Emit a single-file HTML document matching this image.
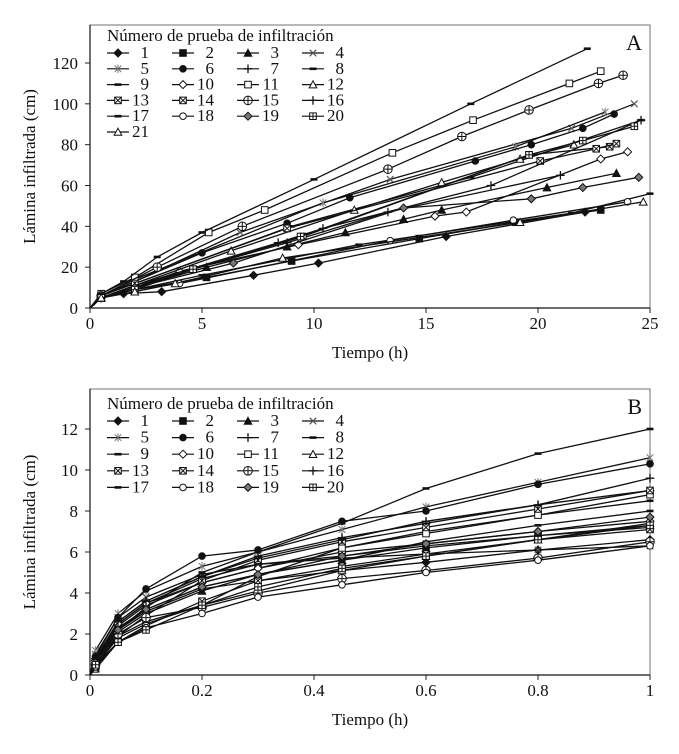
<!DOCTYPE html>
<html><head><meta charset="utf-8"><style>
body{margin:0;background:#fff}
svg text{font-family:"Liberation Serif",serif;fill:#111}
</style></head><body>
<svg id="c" width="679" height="749" viewBox="0 0 679 749" xmlns="http://www.w3.org/2000/svg"></svg>
<script>
// Series ids and marker types
const seriesIds = [1,2,3,4,5,6,7,8,9,10,11,12,13,14,15,16,17,18,19,20,21];
const markerTypes = ['diamond','square','triangle','x','star','circle','plus','dash','dash','odiamond','osquare','otriangle','sqx','sqx','ocirclePlus','plus','dash','ocircle','gdiamond','sqplus','otriangle'];
// Panel A: time (h) and lamina (cm), pairs per series
const aT = {
1:[0,0.5,1.5,3.2,7.3,10.2,15.9,22.1], 2:[0,0.5,2,5.2,9,14.7,19,22.8], 3:[0,0.5,2,5.2,8.8,11.4,14,15.7,20.4,23.5],
4:[0,0.5,2,6.7,13.4,21.5,24.3], 5:[0,0.5,2,10.4,19,23], 6:[0,0.5,2,5,8.8,11.6,17.2,19.7,22,23.4],
7:[0,0.5,2,8.8,13.3,21], 8:[0,0.5,2,9,17,24.6], 9:[0,0.5,2,5,12,18.7,21.5,25], 10:[0,0.5,2,4,9.3,15.4,16.8,22.8,24],
11:[0,0.5,2,5.3,7.8,13.5,17.1,21.4,22.8], 12:[0,0.5,2,6.3,11.8,15.7,19.2,21.6], 13:[0,0.5,2,4.6,9.5,19.6,23.2],
14:[0,0.5,2,8.8,20.1,22.6,23.5], 15:[0,0.5,3,6.8,13.3,16.6,19.6,22.7,23.8], 16:[0,0.5,2,8.4,10.4,17.9,24.6],
17:[0,0.5,1.5,3,5,10,17,22.2], 18:[0,0.5,2,4,13.4,18.9,24], 19:[0,0.5,2,6.4,14,19.7,22,24.5],
20:[0,0.5,2,4.6,9.4,19.6,22,24.3], 21:[0,0.5,2,3.8,8.6,19.2,24.7]};
const aY = {
1:[0,5,7,8,16,22,35,47], 2:[0,5,9,15,23,34,42,48], 3:[0,5,10,20,30,37,43.5,48,59,66],
4:[0,6,13,37,63,88,100], 5:[0,6,14,51.5,79,96], 6:[0,6,13,27,41.5,54,72,80,88,95],
7:[0,5,11,32,47,65], 8:[0,6,12,40,64,92], 9:[0,5,9,16,31,42,46.5,56], 10:[0,5,10,18,31,45,47,73,76.5],
11:[0,7,15,37,48,76,92,110,116], 12:[0,5,11,28,48,61.5,73,80], 13:[0,5,10,19,35,75,79],
14:[0,6,12,39,72,78,80.5], 15:[0,6,20,40,68,84,97,110,114], 16:[0,5,11,32,39,60,92],
17:[0,7,13,25,37,63,100,127], 18:[0,5,9,12,33,43,52], 19:[0,5,10,22,49,53.5,59,64],
20:[0,5,9,19,35,75,82,89], 21:[0,5,8,12,24.5,42,52]};
// Panel B
const bT = [0.01,0.05,0.1,0.2,0.3,0.45,0.6,0.8,1];
const bY = {
1:[0.7,2.2,3.1,4.2,4.6,5.1,5.5,6.1,6.6], 2:[0.8,2.5,3.5,4.7,5.4,5.8,6.3,6.8,7.2], 3:[0.6,2.1,3.0,4.1,4.9,5.6,6.2,6.8,7.3],
4:[1.0,2.8,3.8,4.9,5.4,5.7,5.9,6.1,6.3], 5:[1.2,3.0,4.1,5.3,6.0,7.1,8.2,9.4,10.6], 6:[0.9,2.8,4.2,5.8,6.1,7.5,8.0,9.3,10.3],
7:[0.8,2.6,3.6,4.8,5.8,6.7,7.4,8.3,9.0], 8:[0.7,2.4,3.4,4.5,5.2,6.2,7.0,7.8,8.5], 9:[0.6,2.3,3.2,4.3,4.9,5.6,6.5,7.3,8.0],
10:[0.7,2.5,3.5,4.5,5.2,6.0,6.4,7.0,7.5], 11:[0.5,1.9,2.6,3.4,4.8,6.2,6.9,7.8,8.8], 12:[0.5,1.8,2.5,3.4,4.1,5.1,5.8,6.6,7.4],
13:[0.3,1.6,2.4,3.6,4.6,5.3,5.9,6.6,7.1], 14:[0.4,1.9,2.9,4.6,5.6,6.5,7.2,8.1,9.0], 15:[0.5,2.0,2.8,3.3,4.0,4.7,5.1,5.7,6.5],
16:[0.8,2.6,3.6,4.8,5.7,6.6,7.5,8.3,9.6], 17:[0.8,2.2,3.3,5.0,6.0,7.4,9.1,10.8,12.0], 18:[0.4,1.6,2.3,3.0,3.8,4.4,5.0,5.6,6.3],
19:[0.6,2.2,3.2,4.3,4.9,5.8,6.4,7.0,7.7], 20:[0.5,1.6,2.2,3.4,4.3,5.2,5.8,6.6,7.3]};
const aXTicks=[0,5,10,15,20,25], aYTicks=[0,20,40,60,80,100,120];
const bXTicks=[0,0.2,0.4,0.6,0.8,1], bYTicks=[0,2,4,6,8,10,12];

const NS='http://www.w3.org/2000/svg', svg=document.getElementById('c');
function mk(tag,attrs,parent){const e=document.createElementNS(NS,tag);for(const k in attrs)e.setAttribute(k,attrs[k]);(parent||svg).appendChild(e);return e;}
function marker(g,type,x,y){
  const s=3.3;let e;
  if(type==='diamond'||type==='odiamond'||type==='gdiamond'){e=mk('polygon',{points:`${x},${y-s-0.7} ${x+s+0.7},${y} ${x},${y+s+0.7} ${x-s-0.7},${y}`,fill:type==='diamond'?'#111':type==='gdiamond'?'#777':'#fff',stroke:'#111','stroke-width':1},g);}
  else if(type==='square'||type==='osquare'||type==='sqx'||type==='sqplus'){e=mk('rect',{x:x-s,y:y-s,width:2*s,height:2*s,fill:type==='square'?'#111':'#fff',stroke:'#111','stroke-width':1},g);
    if(type==='sqx'){mk('path',{d:`M${x-s} ${y-s}L${x+s} ${y+s}M${x+s} ${y-s}L${x-s} ${y+s}`,stroke:'#111','stroke-width':1},g);}
    if(type==='sqplus'){mk('path',{d:`M${x-s} ${y}H${x+s}M${x} ${y-s}V${y+s}`,stroke:'#111','stroke-width':1},g);}}
  else if(type==='triangle'||type==='otriangle'){e=mk('polygon',{points:`${x},${y-s-0.5} ${x+s+0.5},${y+s} ${x-s-0.5},${y+s}`,fill:type==='triangle'?'#111':'#fff',stroke:'#111','stroke-width':1},g);}
  else if(type==='x'){e=mk('path',{d:`M${x-s} ${y-s}L${x+s} ${y+s}M${x+s} ${y-s}L${x-s} ${y+s}`,stroke:'#555','stroke-width':1.2},g);}
  else if(type==='star'){e=mk('path',{d:`M${x-s} ${y-s}L${x+s} ${y+s}M${x+s} ${y-s}L${x-s} ${y+s}M${x} ${y-s-1}V${y+s+1}`,stroke:'#777','stroke-width':1},g);}
  else if(type==='circle'||type==='ocircle'||type==='ocirclePlus'){e=mk('circle',{cx:x,cy:y,r:s,fill:type==='circle'?'#111':'#fff',stroke:'#111','stroke-width':1},g);
    if(type==='ocirclePlus'){e.setAttribute('r',s+1);mk('path',{d:`M${x-s-1} ${y}H${x+s+1}M${x} ${y-s-1}V${y+s+1}`,stroke:'#111','stroke-width':1},g);}}
  else if(type==='plus'){e=mk('path',{d:`M${x-s-1} ${y}H${x+s+1}M${x} ${y-s-1}V${y+s+1}`,stroke:'#111','stroke-width':1.3},g);}
  else {e=mk('rect',{x:x-3.5,y:y-1.3,width:7,height:2.6,fill:'#111'},g);}
  return e;
}
function panel(cfg){
  const {name,top,x0,x1,y0,yTop,xmax,ymax,xT,yT,xFmt,label,getT,getY,ids,legY,legDy}=cfg;
  const sx=v=>x0+(v/xmax)*(x1-x0), sy=v=>y0-(v/ymax)*(y0-yTop);
  const g=mk('g',{});
  
  
  const bx=mk('rect',{x:x0,y:top,width:x1-x0,height:y0-top,fill:'none',stroke:'#888','stroke-width':1.2},g);
  
  
  const fr=mk('path',{d:`M${x0} ${top}V${y0}H${x1}`,fill:'none',stroke:'#222','stroke-width':1.2},g);
  
  
  xT.forEach(v=>{mk('line',{x1:sx(v),x2:sx(v),y1:y0,y2:y0+5,stroke:'#222'},g);
    const t=mk('text',{x:sx(v),y:y0+21,'text-anchor':'middle','font-size':17},g);t.textContent=xFmt(v);
    
    });
  yT.forEach(v=>{mk('line',{x1:x0-5,x2:x0,y1:sy(v),y2:sy(v),stroke:'#222'},g);
    const t=mk('text',{x:x0-12,y:sy(v)+6,'text-anchor':'end','font-size':17},g);t.textContent=v;
    
    });
  const xl=mk('text',{x:(x0+x1)/2,y:y0+50,'text-anchor':'middle','font-size':17},g);xl.textContent='Tiempo (h)';
  
  
  const yl=mk('text',{x:0,y:0,'text-anchor':'middle','font-size':17,transform:`translate(${x0-55},${(top+y0)/2}) rotate(-90)`},g);yl.textContent='Lámina infiltrada (cm)';
  
  
  const pl=mk('text',{x:x1-8,y:top+25,'text-anchor':'end','font-size':22},g);pl.textContent=label;
  
  
  ids.forEach(id=>{
    const ts=getT(id), ys=getY(id);
    const sg=mk('g',{},g);
    
    
    const d=ts.map((t,i)=>(i?'L':'M')+sx(t).toFixed(1)+' '+sy(ys[i]).toFixed(1)).join('');
    mk('path',{d:d,fill:'none',stroke:'#111','stroke-width':1.3},sg);
    ts.forEach((t,i)=>{if(t>0){const m=marker(sg,markerTypes[id-1],sx(t),sy(ys[i]));
      
      }});
  });
  const lt=mk('text',{x:x0+17,y:legY,'font-size':17},g);lt.textContent='Número de prueba de infiltración';
  
  
  ids.forEach((id,k)=>{
    const col=k%4,row=Math.floor(k/4);
    const lx=x0+17+col*65, ly=legY+17+row*legDy;
    const lg=mk('g',{},g);
    
    
    mk('line',{x1:lx,x2:lx+22,y1:ly-5,y2:ly-5,stroke:'#111','stroke-width':1.2},lg);
    marker(lg,markerTypes[id-1],lx+11,ly-5);
    const tt=mk('text',{x:lx+42,y:ly,'text-anchor':'end','font-size':17},lg);tt.textContent=id;
  });
}
panel({name:'a',top:25,x0:90,x1:650,y0:308,yTop:63,xmax:25,ymax:120,xT:aXTicks,yT:aYTicks,xFmt:v=>v,label:'A',
  getT:id=>aT[id],getY:id=>aY[id],ids:seriesIds,legY:41,legDy:15.8});
panel({name:'b',top:389,x0:90,x1:650,y0:675,yTop:429,xmax:1,ymax:12,xT:bXTicks,yT:bYTicks,xFmt:v=>String(v),label:'B',
  getT:id=>[0].concat(bT),getY:id=>[0].concat(bY[id]),ids:seriesIds.slice(0,20),legY:409,legDy:16.6});
</script>
</body></html>
